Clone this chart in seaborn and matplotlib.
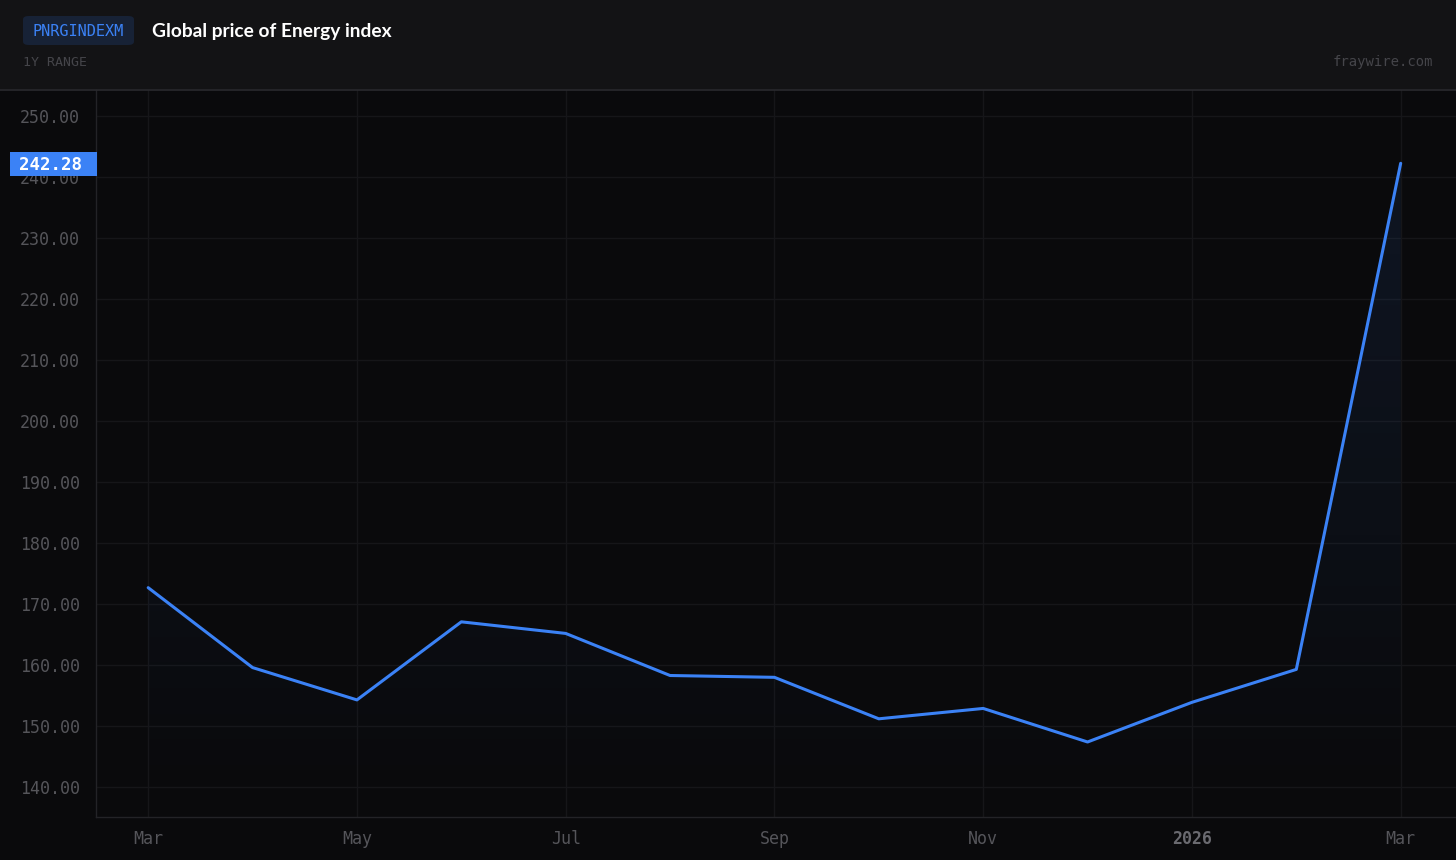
import numpy as np
import pandas as pd
import matplotlib.pyplot as plt
import seaborn as sns
from matplotlib.patches import FancyBboxPatch, Rectangle, Polygon
from matplotlib.colors import LinearSegmentedColormap

# Data (monthly, evenly spaced)
months = ["Mar", "Apr", "May", "Jun", "Jul", "Aug", "Sep",
          "Oct", "Nov", "Dec", "Jan", "Feb", "Mar"]
values = [172.7, 159.6, 154.3, 167.1, 165.2, 158.3, 158.0,
          151.2, 152.9, 147.4, 153.9, 159.3, 242.28]
tick_pos = [0, 2, 4, 6, 8, 10, 12]
tick_labels = ["Mar", "May", "Jul", "Sep", "Nov", "2026", "Mar"]
y_ticks = [140, 150, 160, 170, 180, 190, 200, 210, 220, 230, 240, 250]

ticker = "PNRGINDEXM"
title = "Global price of Energy index"
last_label = "242.28"

df = pd.DataFrame({"idx": range(len(values)), "value": values})

BG = "#0a0a0c"
HEAD = "#131315"
GRID = "#161619"
TICK = "#55555a"
BLUE = "#3b82f6"
MONO = "DejaVu Sans Mono"

sns.set_style("dark")
fig = plt.figure(figsize=(14.56, 8.6), dpi=100)
fig.patch.set_facecolor(BG)

W, H = 1456, 860
ax = fig.add_axes([96 / W, 1 - 817 / H, (W - 96) / W, (817 - 90) / H])
ax.set_facecolor(BG)

sns.lineplot(data=df, x="idx", y="value", ax=ax, color=BLUE, linewidth=2.2, zorder=4)

ax.set_xlim(-0.5, 12.53)
ax.set_ylim(135.1, 254.3)

# gradient fill under the line
xs = df["idx"].values
ys = df["value"].values
y0 = 135.1
grad = np.linspace(0, 1, 256).reshape(-1, 1)
cmap = LinearSegmentedColormap.from_list("g", [(0.23, 0.51, 0.96, 0.0), (0.23, 0.51, 0.96, 0.10)])
im = ax.imshow(grad, extent=[xs[0], xs[-1], y0, max(ys)], origin="lower",
               aspect="auto", cmap=cmap, zorder=2)
poly = Polygon(np.column_stack([np.r_[xs, xs[-1], xs[0]], np.r_[ys, y0, y0]]),
               closed=True, transform=ax.transData, facecolor="none", edgecolor="none")
ax.add_patch(poly)
im.set_clip_path(poly)

ax.set_yticks(y_ticks)
ax.set_yticklabels([f"{v:.2f}" for v in y_ticks])
ax.set_xticks(tick_pos)
ax.set_xticklabels(tick_labels)
ax.grid(True, color=GRID, linewidth=1)
ax.set_xlabel("")
ax.set_ylabel("")
ax.tick_params(axis="both", length=0, colors=TICK, labelsize=12)
ax.tick_params(axis="x", pad=9)
ax.tick_params(axis="y", pad=11.5)
for lab in ax.get_xticklabels() + ax.get_yticklabels():
    lab.set_fontfamily(MONO)
for lab in ax.get_xticklabels():
    if lab.get_text() == "2026":
        lab.set_color("#6a6a70")
        lab.set_fontweight("bold")
for side in ["top", "right"]:
    ax.spines[side].set_visible(False)
for side in ["left", "bottom"]:
    ax.spines[side].set_color("#232327")
    ax.spines[side].set_linewidth(1)

# header band
fig.patches.append(Rectangle((0, 1 - 89 / H), 1, 89 / H, transform=fig.transFigure,
                             facecolor=HEAD, edgecolor="none", zorder=0))
fig.lines.append(plt.Line2D([0, 1], [1 - 89.5 / H] * 2, transform=fig.transFigure,
                            color="#2a2a2e", linewidth=1.2))
fig.patches.append(FancyBboxPatch((23 / W, 1 - 45 / H), 111 / W, 29 / H,
                                  boxstyle="round,pad=0,rounding_size=0.004",
                                  transform=fig.transFigure, facecolor="#172236",
                                  edgecolor="none", zorder=1))
fig.text(78.5 / W, 1 - 31 / H, ticker, color=BLUE, fontsize=11, family=MONO,
         ha="center", va="center")
fig.text(152 / W, 1 - 31 / H, title, color="white", fontsize=13.8, family="Lato",
         fontweight="bold", ha="left", va="center")
fig.text(23 / W, 1 - 62 / H, "1Y RANGE", color="#45454a", fontsize=9.5, family=MONO,
         ha="left", va="center")
fig.text(1433 / W, 1 - 62 / H, "fraywire.com", color="#45454a", fontsize=10,
         family=MONO, ha="right", va="center")

# last value tag (sits over the 240 label, as in the original)
fig.patches.append(Rectangle((10 / W, 1 - 176 / H), 87 / W, 24 / H,
                             transform=fig.transFigure, facecolor=BLUE,
                             edgecolor="none", zorder=5))
fig.text(51 / W, 1 - 164.5 / H, last_label, color="white", fontsize=12.5, family=MONO,
         fontweight="bold", ha="center", va="center", zorder=6)

plt.savefig("out.png", dpi=100, facecolor=fig.get_facecolor())
